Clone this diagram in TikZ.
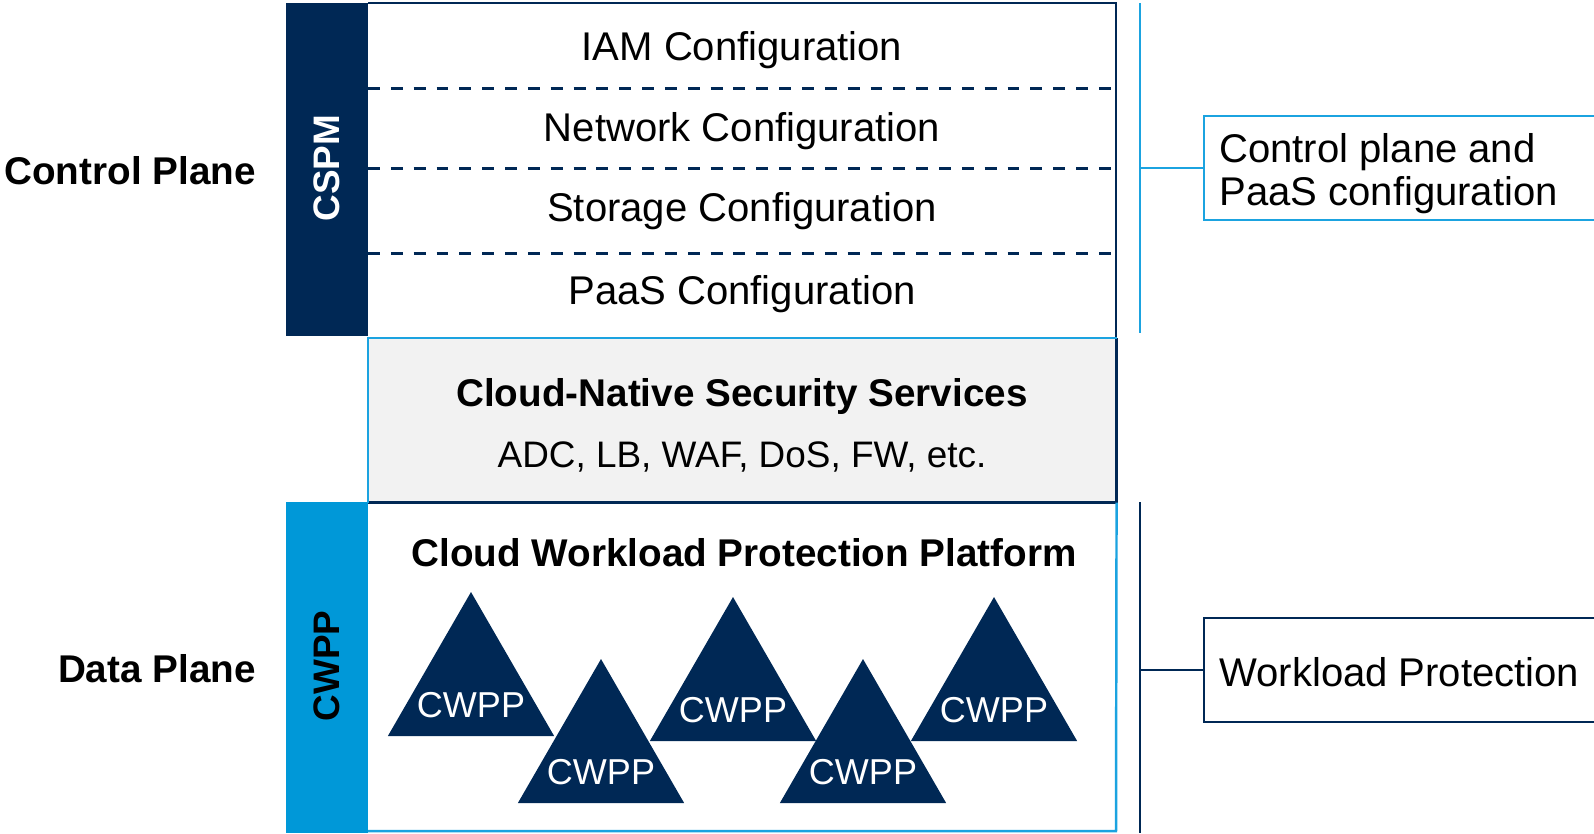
\documentclass[tikz,border=0pt]{standalone}
\usepackage{fontspec}
\setmainfont{Liberation Sans}
\usetikzlibrary{shapes.geometric}
\definecolor{navy}{HTML}{002855}
\definecolor{cyanbar}{HTML}{0098D8}
\definecolor{skyline}{HTML}{1BA3E0}
\definecolor{paleg}{HTML}{F2F2F2}
\begin{document}
\begin{tikzpicture}[x=0.02cm,y=-0.02cm]
		\tikzstyle{conf} = [font=\fontsize{22.8}{26}\selectfont]
		\tikzstyle{title} = [font=\fontsize{22}{26}\selectfont\bfseries]
		\tikzstyle{plane} = [font=\fontsize{22}{26}\selectfont\bfseries, anchor=east, inner sep=0]
		\tikzstyle{barlabel} = [rotate=90, font=\fontsize{21}{24}\selectfont\bfseries]
		\tikzstyle{pod} = [regular polygon, regular polygon sides=3, fill=navy, minimum size=3.84cm, inner sep=0]
		\tikzstyle{podtext} = [text=white, font=\fontsize{20.5}{24}\selectfont]
		\tikzstyle{info} = [draw, line width=1.3pt, anchor=west, minimum height=2.08cm, minimum width=7.94cm]
		\tikzstyle{infotext} = [anchor=west, inner sep=0, align=left, font=\fontsize{22.8}{24.5}\selectfont]
		\tikzstyle{edge} = [line width=1.4pt]
		\useasboundingbox (0,0) rectangle (1594,833);

		% side bars
		\fill[navy] (286,3) rectangle (368,336);
		\fill[cyanbar] (286,502) rectangle (368,833);
		\node [barlabel, text=white] (cspm) at (327,168) {CSPM};
		\node [barlabel] (cwpp) at (327,666) {CWPP};
		\node [plane] (ctrlplane) at (256,171) {Control Plane};
		\node [plane] (dataplane) at (256,669) {Data Plane};

		% configuration layers
		\draw [navy, edge] (368,3) -- (1116,3) -- (1116,338);
		\foreach \y in {88,168,253}
			\draw [navy, line width=1.7pt, dash pattern=on 6.8pt off 6.2pt] (368,\y) -- (1116,\y);
		\node [conf] (iam) at (742,50) {IAM Configuration};
		\node [conf] (net) at (742,131) {Network Configuration};
		\node [conf] (sto) at (742,211) {Storage Configuration};
		\node [conf] (paas) at (742,294) {PaaS Configuration};

		% security services
		\node [fill=paleg, minimum width=14.96cm, minimum height=3.28cm, inner sep=0, anchor=north west] (cnss) at (368,338) {};
		\draw [navy, edge] (cnss.north east) -- (cnss.south east) -- (cnss.south west);
		\draw [skyline, edge] (cnss.south west) -- (cnss.north west) -- (cnss.north east);
		\node [title] (cnsstitle) at (742,396) {Cloud-Native Security Services};
		\node [font=\fontsize{21}{24}\selectfont] (cnsssub) at (742,457) {ADC, LB, WAF, DoS, FW, etc.};

		% workload platform
		\draw [skyline, edge] (cnss.south east) -- (1116,831) -- (368,831);
		\node [title] (cwpptitle) at (744,553) {Cloud Workload Protection Platform};
		\foreach \n/\x/\y in {1/471/688, 3/733/693, 5/994/693, 2/601/755, 4/863/755} {
			\node [pod] (pod\n) at (\x,\y) {};
			\node [podtext] (cw\n) at (\x,\y+17) {CWPP};
		}

		% right brackets
		\coordinate (ctltop) at (1140,3);
		\coordinate (ctlbot) at (1140,333);
		\coordinate (ctlmid) at (1140,168);
		\draw [skyline, edge] (ctltop) -- (ctlbot);
		\node [info, draw=skyline] (ctlinfo) at (1203,168) {};
		\node [infotext] (ctltext) at (1219,174) {Control plane and\\PaaS configuration};
		\draw [skyline, edge] (ctlmid) -- (ctlinfo.west);

		\coordinate (datatop) at (1140,502);
		\coordinate (databot) at (1140,833);
		\coordinate (datamid) at (1140,670);
		\draw [navy, edge] (datatop) -- (databot);
		\node [info, draw=navy] (datainfo) at (1203,670) {};
		\node [infotext] (datatext) at (1219,672) {Workload Protection};
		\draw [navy, edge] (datamid) -- (datainfo.west);
	\end{tikzpicture}
\end{document}
